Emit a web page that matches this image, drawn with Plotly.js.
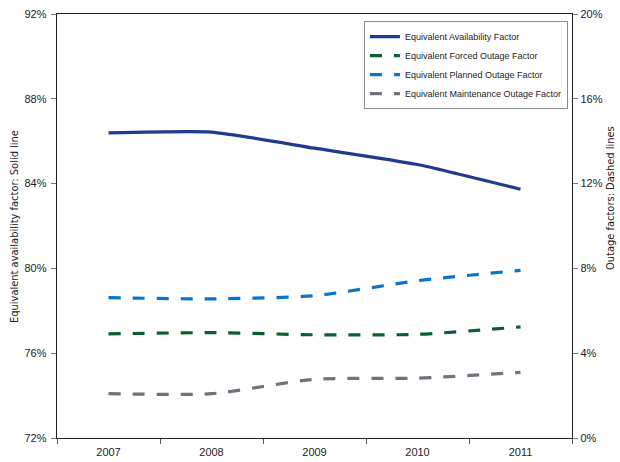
<!DOCTYPE html>
<html>
<head>
<meta charset="utf-8">
<script src="https://cdn.plot.ly/plotly-3.0.1.min.js"></script>
<style>
  html, body { margin: 0; padding: 0; background: #ffffff; }
  #chart { width: 620px; height: 462px; }
</style>
</head>
<body>
<div id="chart"></div>
<script>
// Years on the category axis
var years = ['2007', '2008', '2009', '2010', '2011'];

// Equivalent availability factor (left axis, %)
var availability = [86.39, 86.43, 85.67, 84.90, 83.73];

// Outage factors (right axis, %)
var forcedOutage = [4.91, 4.97, 4.87, 4.89, 5.24];
var plannedOutage = [6.62, 6.56, 6.71, 7.42, 7.91];
var maintenanceOutage = [2.09, 2.09, 2.77, 2.82, 3.10];

var seriesNames = [
  'Equivalent Availability Factor',
  'Equivalent Forced Outage Factor',
  'Equivalent Planned Outage Factor',
  'Equivalent Maintenance Outage Factor'
];

var titleFont = 'DejaVu Sans Condensed, Liberation Sans, Arial, sans-serif';
var tickFont = 'Liberation Sans, Arial, sans-serif';
var dashPattern = '12px,12px';

var traces = [
  {
    x: years, y: availability, name: seriesNames[0], yaxis: 'y',
    type: 'scatter', mode: 'lines',
    line: { color: '#1f3b8e', width: 3.2, shape: 'spline', smoothing: 0.5 }
  },
  {
    x: years, y: forcedOutage, name: seriesNames[1], yaxis: 'y2',
    type: 'scatter', mode: 'lines',
    line: { color: '#0b5e2f', width: 3.2, dash: dashPattern, shape: 'spline', smoothing: 0.6 }
  },
  {
    x: years, y: plannedOutage, name: seriesNames[2], yaxis: 'y2',
    type: 'scatter', mode: 'lines',
    line: { color: '#0a75c6', width: 3.2, dash: dashPattern, shape: 'spline', smoothing: 0.6 }
  },
  {
    x: years, y: maintenanceOutage, name: seriesNames[3], yaxis: 'y2',
    type: 'scatter', mode: 'lines',
    line: { color: '#6d747e', width: 3.2, dash: dashPattern, shape: 'spline', smoothing: 0.6 }
  }
];

var layout = {
  width: 620,
  height: 462,
  margin: { l: 57, r: 48, t: 14, b: 24, pad: 0 },
  paper_bgcolor: '#ffffff',
  plot_bgcolor: '#ffffff',
  font: { family: tickFont, size: 11, color: '#222222' },
  showlegend: true,
  legend: {
    x: 0.596, xanchor: 'left',
    y: 0.983, yanchor: 'top',
    bgcolor: '#ffffff',
    bordercolor: '#8c8c8c',
    borderwidth: 1,
    font: { family: tickFont, size: 9, color: '#222222' },
    itemwidth: 30,
    tracegroupgap: 0
  },
  xaxis: {
    type: 'category',
    range: [-0.5, 4.5],
    showgrid: false,
    zeroline: false,
    showline: true,
    linecolor: '#222222',
    linewidth: 1.3,
    mirror: true,
    ticks: 'outside',
    tickson: 'boundaries',
    ticklen: 5,
    tickcolor: '#555555',
    ticklabelstandoff: 3,
    tickfont: { family: tickFont, size: 11, color: '#222222' },
    fixedrange: true
  },
  yaxis: {
    range: [72, 92],
    dtick: 4,
    tick0: 72,
    ticksuffix: '%',
    showgrid: false,
    zeroline: false,
    showline: true,
    linecolor: '#222222',
    linewidth: 1.3,
    ticks: 'outside',
    ticklen: 5,
    tickcolor: '#777777',
    ticklabelstandoff: 2,
    tickfont: { family: tickFont, size: 11, color: '#222222' },
    fixedrange: true
  },
  yaxis2: {
    overlaying: 'y',
    side: 'right',
    range: [0, 20],
    dtick: 4,
    tick0: 0,
    ticksuffix: '%',
    showgrid: false,
    zeroline: false,
    showline: true,
    linecolor: '#222222',
    linewidth: 1.3,
    ticks: 'outside',
    ticklen: 5,
    tickcolor: '#777777',
    tickfont: { family: tickFont, size: 11, color: '#222222' },
    fixedrange: true
  },
  annotations: [
    {
      text: 'Equivalent availability factor: Solid line',
      xref: 'paper', yref: 'paper',
      x: -0.0835, y: 0.5,
      xanchor: 'center', yanchor: 'middle',
      textangle: -90, showarrow: false,
      font: { family: titleFont, size: 11, color: '#222222' }
    },
    {
      text: 'Outage factors: Dashed lines',
      xref: 'paper', yref: 'paper',
      x: 1.0738, y: 0.566,
      xanchor: 'center', yanchor: 'middle',
      textangle: -90, showarrow: false,
      font: { family: titleFont, size: 11, color: '#222222' }
    }
  ]
};

Plotly.newPlot('chart', traces, layout, { displayModeBar: false, staticPlot: true });
</script>
</body>
</html>
